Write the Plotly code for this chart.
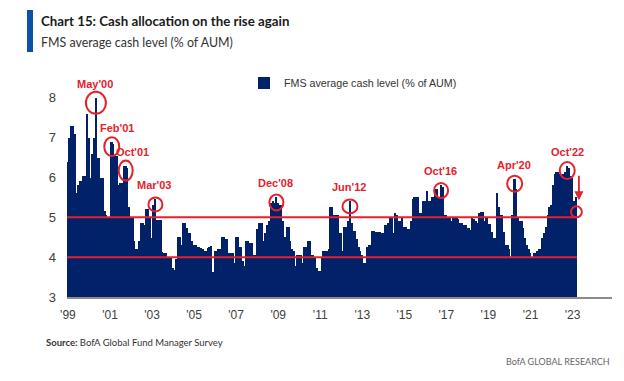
import pandas as pd
import plotly.graph_objects as go

# ---------------- data (monthly FMS average cash level, % of AUM) ----------------
y1999 = [6.4, 7.0, 7.3, 7.3, 7.1, 5.6, 5.8, 5.9, 5.9, 6.05, 6.05, 7.6]
y2000 = [7.0, 6.0, 6.6, 7.0, 8.0, 6.5, 6.5, 6.0, 6.0, 5.15, 5.05, 5.0]
y2001 = [5.0, 6.9, 6.85, 6.55, 6.55, 5.8, 5.85, 5.85, 6.3, 6.3, 6.25, 5.25]
y2002 = [5.0, 5.0, 4.4, 4.2, 4.2, 4.4, 4.85, 4.85, 4.8, 5.2, 5.2, 5.0]
y2003 = [4.47, 5.3, 5.45, 4.93, 4.93, 4.93, 4.13, 4.1, 4.1, 4.0, 3.97, 3.97]
y2004 = [3.72, 3.68, 3.95, 4.5, 4.5, 4.3, 4.85, 4.85, 4.72, 4.6, 4.6, 4.4]
y2005 = [4.3, 4.3, 4.25, 4.25, 4.22, 4.2, 4.15, 4.15, 4.22, 4.25, 4.27, 3.63]
y2006 = [4.15, 4.15, 4.2, 4.2, 4.5, 4.5, 4.45, 4.45, 4.1, 4.1, 4.1, 3.85]
y2007 = [4.5, 4.5, 4.25, 4.25, 3.9, 3.77, 4.4, 4.4, 4.35, 4.35, 4.05, 4.05]
y2008 = [4.7, 4.85, 4.85, 4.85, 4.4, 4.6, 4.8, 4.9, 5.35, 5.4, 5.35, 5.5]
y2009 = [5.35, 5.3, 5.3, 4.9, 4.5, 4.75, 4.75, 4.4, 4.2, 4.15, 3.77, 4.05]
y2010 = [4.05, 4.05, 3.85, 4.25, 4.25, 4.4, 4.4, 4.05, 4.05, 4.0, 3.72, 3.65]
y2011 = [3.65, 4.0, 4.15, 4.15, 4.15, 4.2, 5.25, 5.25, 5.05, 5.05, 5.05, 4.6]
y2012 = [4.6, 4.15, 4.75, 4.75, 4.9, 5.4, 4.85, 4.65, 4.65, 4.45, 4.25, 4.15]
y2013 = [4.05, 3.85, 3.85, 4.25, 4.3, 4.3, 4.65, 4.65, 4.63, 4.63, 4.63, 4.6]
y2014 = [4.6, 4.8, 4.8, 4.85, 5.0, 5.0, 4.6, 5.1, 5.05, 4.9, 4.9, 5.0]
y2015 = [4.75, 4.75, 4.7, 4.7, 4.9, 5.45, 5.5, 5.5, 5.5, 5.1, 5.1, 5.4]
y2016 = [5.4, 5.65, 5.4, 5.4, 5.5, 5.5, 5.72, 5.72, 5.5, 5.8, 5.75, 5.05]
y2017 = [5.05, 5.0, 5.0, 4.9, 5.0, 5.0, 5.0, 4.95, 4.85, 4.85, 4.8, 4.8]
y2018 = [4.72, 4.72, 4.68, 5.0, 4.95, 4.9, 4.85, 5.1, 5.14, 5.14, 4.9, 5.0]
y2019 = [4.84, 4.84, 4.64, 4.47, 4.47, 5.6, 5.26, 5.05, 5.05, 4.64, 4.3, 4.3]
y2020 = [4.2, 4.0, 5.05, 5.97, 5.72, 5.0, 4.9, 4.9, 4.72, 4.47, 4.3, 4.2]
y2021 = [4.1, 4.0, 4.1, 4.1, 4.15, 4.2, 4.2, 4.47, 4.6, 4.76, 5.05, 5.26]
y2022 = [5.3, 5.8, 6.1, 6.15, 6.15, 6.1, 6.05, 6.1, 6.15, 6.3, 6.25, 6.05]
y2023 = [6.0, 5.4, 5.5]

start_month = "1999-01-01"
series_name = "FMS average cash level (% of AUM)"
threshold_levels = [5, 4]
tick_years = list(range(1999, 2024, 2))
tick_labels = ["'99", "'01", "'03", "'05", "'07", "'09", "'11", "'13", "'15", "'17", "'19", "'21", "'23"]
y_ticks = [3, 4, 5, 6, 7, 8]
callout_labels = ["May'00", "Feb'01", "Oct'01", "Mar'03", "Dec'08", "Jun'12", "Oct'16", "Apr'20", "Oct'22"]
callout_months = ["2000-05-01", "2001-02-01", "2001-10-01", "2003-03-01", "2008-12-01",
                  "2012-06-01", "2016-10-01", "2020-04-01", "2022-10-01"]

title_text = "Chart 15: Cash allocation on the rise again"
subtitle_text = "FMS average cash level (% of AUM)"
source_text = "<b>Source:</b> BofA Global Fund Manager Survey"
brand_text = "BofA GLOBAL RESEARCH"

# ---------------- build ----------------
values = (y1999 + y2000 + y2001 + y2002 + y2003 + y2004 + y2005 + y2006 + y2007 + y2008 +
          y2009 + y2010 + y2011 + y2012 + y2013 + y2014 + y2015 + y2016 + y2017 + y2018 +
          y2019 + y2020 + y2021 + y2022 + y2023)
dates = pd.date_range(start_month, periods=len(values), freq="MS")
series = pd.Series(values, index=dates)

NAVY = "#012169"
RED = "#e5212b"
W, H = 624, 381
L, R, T, B = 67, 12, 58, 84
PW, PH = W - L - R, H - T - B


def px_x(px):
    return (px - L) / PW


def px_y(py):
    return (H - B - py) / PH


fig = go.Figure()
fig.add_trace(go.Bar(
    x=dates, y=values, name=series_name, showlegend=True,
    marker=dict(color=NAVY, line=dict(width=0)),
    width=31 * 24 * 3600 * 1000,
))

half = pd.Timedelta(days=15)
shapes = []
for lvl in threshold_levels:
    shapes.append(dict(type="line", xref="x", yref="y", x0=dates[0] - half, x1=dates[-1] + half,
                       y0=lvl, y1=lvl, line=dict(color=RED, width=2), layer="above"))

# callout circles + labels anchored on the data
circle_sizes = [(20, 22), (15, 19), (14, 20), (14, 14), (14, 16), (15, 14), (14, 15), (15, 16), (15, 17)]
label_dx = [-1, 5, 7, -1, -1, -1, -1, -1, 0]
annotations = []
for lab, m, (cw, ch), dx in zip(callout_labels, callout_months, circle_sizes, label_dx):
    d = pd.Timestamp(m)
    v = series[d]
    shapes.append(dict(type="circle", xref="x", yref="y", xsizemode="pixel", ysizemode="pixel",
                       xanchor=d, yanchor=v, x0=-cw / 2, x1=cw / 2, y0=-5 - ch / 2, y1=-5 + ch / 2,
                       line=dict(color=RED, width=2), layer="above"))
    annotations.append(dict(x=d, y=v, xref="x", yref="y", text=lab, showarrow=False,
                            xshift=dx, yshift=14, yanchor="middle",
                            font=dict(family="Liberation Sans", size=11, color=RED, weight="bold")))

# latest-reading marker: small circle on the 5% line and downward arrow
shapes.append(dict(type="circle", xref="x", yref="y", xsizemode="pixel", ysizemode="pixel",
                   xanchor=dates[-1], yanchor=threshold_levels[0], x0=-5, x1=6, y0=0, y1=11,
                   line=dict(color=RED, width=2), layer="above"))
annotations.append(dict(x=dates[-1], y=threshold_levels[0], xref="x", yref="y", text="",
                        showarrow=True, ax=0, ay=-26, xshift=3, yshift=17,
                        arrowcolor=RED, arrowwidth=1.8, arrowhead=2, arrowsize=1))

# title block
shapes.append(dict(type="rect", xref="paper", yref="paper", x0=px_x(27), x1=px_x(33),
                   y0=px_y(52), y1=px_y(10), fillcolor="#0a52a5", line=dict(width=0)))
annotations.append(dict(xref="paper", yref="paper", x=px_x(39), y=px_y(21), xanchor="left",
                        yanchor="middle", showarrow=False, text="<b>" + title_text + "</b>",
                        font=dict(family="Lato", size=13.3, color="#1a1a1a")))
annotations.append(dict(xref="paper", yref="paper", x=px_x(39), y=px_y(42), xanchor="left",
                        yanchor="middle", showarrow=False, text=subtitle_text,
                        font=dict(family="Lato", size=12.4, color="#333333")))
annotations.append(dict(xref="paper", yref="paper", x=px_x(44), y=px_y(342), xanchor="left",
                        yanchor="middle", showarrow=False, text=source_text,
                        font=dict(family="Lato", size=9.5, color="#333333")))
annotations.append(dict(xref="paper", yref="paper", x=px_x(612), y=px_y(361), xanchor="right",
                        yanchor="middle", showarrow=False, text=brand_text,
                        font=dict(family="Lato", size=9, color="#666666")))

fig.update_layout(
    width=W, height=H, margin=dict(l=L, r=R, t=T, b=B),
    paper_bgcolor="white", plot_bgcolor="white",
    bargap=0, shapes=shapes, annotations=annotations,
    font=dict(family="Liberation Sans", color="#404040"),
    legend=dict(x=px_x(244), y=px_y(83), xanchor="left", yanchor="middle",
                bgcolor="rgba(0,0,0,0)", font=dict(family="Liberation Sans", size=10.7, color="#333333"),
                itemwidth=30),
    xaxis=dict(type="date", range=[dates[0] - pd.Timedelta(days=16), pd.Timestamp("2024-11-17")],
               tickvals=[pd.Timestamp(f"{yy}-01-01") for yy in tick_years], ticktext=tick_labels,
               showgrid=False, zeroline=False, showline=True, linecolor="#8c8c8c", linewidth=1.5,
               ticks="", ticklabelstandoff=6,
               tickfont=dict(family="Liberation Sans", size=12, color="#404040")),
    yaxis=dict(range=[3, 9], tickvals=y_ticks, showgrid=False, zeroline=False, showline=False,
               ticks="", ticklabelstandoff=10,
               tickfont=dict(family="Liberation Sans", size=13, color="#404040")),
)

fig.write_html("out.html", config={"displayModeBar": False},
               post_script="document.body.style.margin='0px';document.body.style.overflow='hidden';")
